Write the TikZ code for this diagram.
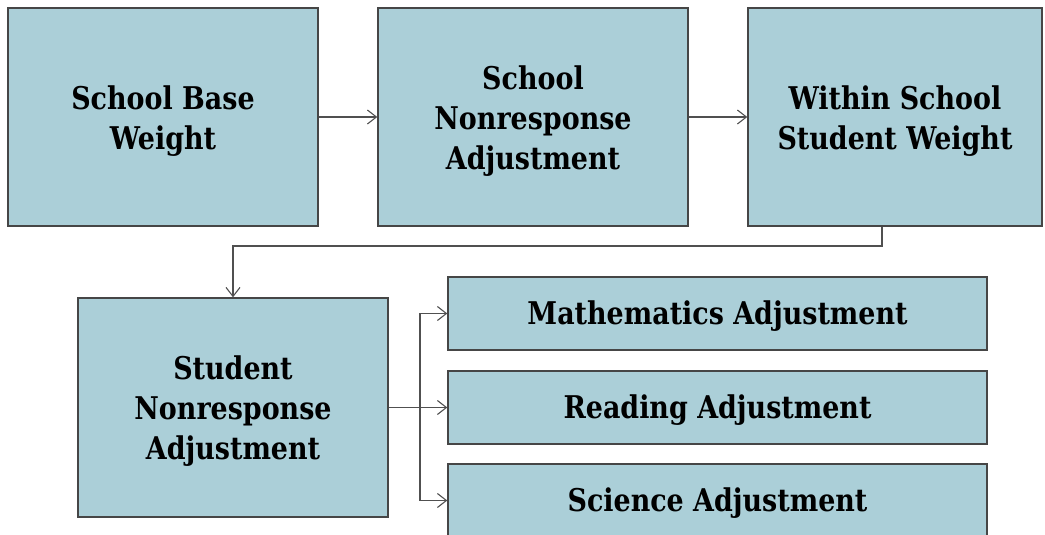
\documentclass[tikz,border=0pt]{standalone}
\usepackage{fontspec}
\setmainfont{DejaVu Serif}[FakeStretch=0.86]
\usetikzlibrary{arrows.meta}
\definecolor{boxfill}{RGB}{171,207,216}
\definecolor{boxline}{RGB}{70,70,70}
\definecolor{linkline}{RGB}{80,80,80}
\tikzset{
  stage/.style={draw=boxline, line width=1.4pt, fill=boxfill, rectangle,
    inner sep=0pt},
  bigstage/.style={stage, minimum width=310, minimum height=218},
  subjstage/.style={stage, minimum width=539, minimum height=73},
  stagetext/.style={inner sep=0pt, align=center, text=black,
    font=\bfseries\fontsize{31.3}{40}\selectfont},
  link/.style={draw=linkline, line width=1.1pt,
    -{Straight Barb[length=9pt,width=14pt,line width=1.1pt]}},
  plainlink/.style={draw=linkline, line width=1.1pt}
}
\begin{document}
\begin{tikzpicture}[x=1pt, y=-1pt]
  \useasboundingbox (0,0) rectangle (1045,535);
  \clip (0,0) rectangle (1045,535);

  % weighting stages, first row
  \node[bigstage] (base) at (163,117) {};
  \node[bigstage] (schnr) at (533,117) {};
  \node[bigstage, minimum width=294] (within) at (895,117) {};

  % student-level stage
  \node[bigstage, minimum height=219] (stunr) at (233,407.5) {};

  % subject-specific adjustments
  \node[subjstage] (math) at (717.5,313.5) {};
  \node[subjstage] (read) at (717.5,407.5) {};
  \node[subjstage] (sci)  at (717.5,500.5) {};

  % stage captions, set a little below each box centre
  \node[stagetext] (baseT)   at ([yshift=-4pt]base.center)   {School Base\\Weight};
  \node[stagetext] (schnrT)  at ([yshift=-4pt]schnr.center)  {School\\Nonresponse\\Adjustment};
  \node[stagetext] (withinT) at ([yshift=-4pt]within.center) {Within School\\Student Weight};
  \node[stagetext] (stunrT)  at ([yshift=-4pt]stunr.center)  {Student\\Nonresponse\\Adjustment};
  \node[stagetext] (mathT)   at ([yshift=-3pt]math.center)   {Mathematics Adjustment};
  \node[stagetext] (readT)   at ([yshift=-3pt]read.center)   {Reading Adjustment};
  \node[stagetext] (sciT)    at ([yshift=-3pt]sci.center)    {Science Adjustment};

  % connectors
  \draw[link] (base.east) -- (schnr.west);
  \draw[link] (schnr.east) -- (within.west);
  \coordinate (turn) at (233,246);
  \draw[link] ([xshift=-13pt]within.south) |- (turn) -- (stunr.north);

  \coordinate (split) at (420,407.5);
  \draw[plainlink] (stunr.east) -- (split);
  \draw[link] (split) |- (math.west);
  \draw[link] (split) -- (read.west);
  \draw[link] (split) |- (sci.west);
\end{tikzpicture}
\end{document}
